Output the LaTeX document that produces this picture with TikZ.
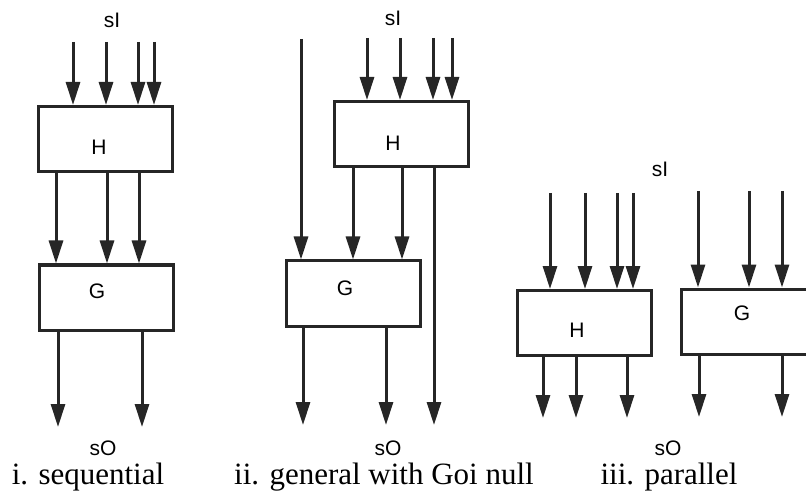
\documentclass[tikz,border=0pt]{standalone}
\usepackage{fontspec}
\setmainfont{Liberation Serif}
\newfontfamily\helv{Liberation Sans}
\usetikzlibrary{arrows.meta}
\colorlet{ink}{black!85}

\begin{document}
\begin{tikzpicture}[x=1pt,y=-1pt,
  blk/.style={draw=ink,line width=3pt,minimum width=134pt,minimum height=65pt,inner sep=0pt},
  sig/.style={draw=ink,line width=3pt,-{Triangle[length=23pt,width=14pt]}},
  lbl/.style={font=\helv\fontsize{21}{24}\selectfont,inner sep=0pt,
    text height=15pt,text depth=0pt},
  captxt/.style={font=\fontsize{31}{36}\selectfont,inner sep=0pt,anchor=base,
    text height=20pt,text depth=7pt}]
  \useasboundingbox (0,0) rectangle (806,497);

  % i. sequential
  \node[blk] (h1) at (105,139) {};
  \node[blk] (g1) at (106,297.5) {};
  \node[lbl] (h1t) at (99,147) {H};
  \node[lbl] (g1t) at (97,291) {G};
  \node[lbl] (si1) at (112,20) {sI};
  \node[lbl] (so1) at (103,448) {sO};
  \node[captxt] (c1) at (88,484) {i. sequential};
  \foreach \x in {73,106,138,154} {
    \coordinate (a1-\x) at (\x,42);
    \draw[sig] (a1-\x) -- (a1-\x |- h1.north);
  }
  \foreach \x in {56,107,139}
    \draw[sig] (h1.south -| \x,0) -- (g1.north -| \x,0);
  \foreach \x in {58,142} {
    \coordinate (z1-\x) at (\x,427);
    \draw[sig] (g1.south -| z1-\x) -- (z1-\x);
  }

  % ii. general, one input passes H by
  \node[blk] (h2) at (401,134) {};
  \node[blk] (g2) at (353.5,293.5) {};
  \node[lbl] (h2t) at (393,143) {H};
  \node[lbl] (g2t) at (345,288) {G};
  \node[lbl] (si2) at (393,18) {sI};
  \node[lbl] (so2) at (388,448) {sO};
  \node[captxt] (c2) at (384,484) {ii. general with Goi null};
  \foreach \x in {367,400,433,452} {
    \coordinate (a2-\x) at (\x,38);
    \draw[sig] (a2-\x) -- (a2-\x |- h2.north);
  }
  \coordinate (a2-by) at (301,39);
  \draw[sig] (a2-by) -- (a2-by |- g2.north);
  \foreach \x in {353,402}
    \draw[sig] (h2.south -| \x,0) -- (g2.north -| \x,0);
  \coordinate (z2-by) at (434,425);
  \draw[sig] (h2.south -| z2-by) -- (z2-by);
  \foreach \x in {303,386} {
    \coordinate (z2-\x) at (\x,425);
    \draw[sig] (g2.south -| z2-\x) -- (z2-\x);
  }

  % iii. parallel
  \node[blk] (h3) at (584.5,323) {};
  \node[blk] (g3) at (748.5,321.5) {};
  \node[lbl] (h3t) at (577,330) {H};
  \node[lbl] (g3t) at (742,313) {G};
  \node[lbl] (si3) at (660,169) {sI};
  \node[lbl] (so3) at (668,448) {sO};
  \node[captxt] (c3) at (669,484) {iii. parallel};
  \foreach \x in {550,585,617,633} {
    \coordinate (a3-\x) at (\x,193);
    \draw[sig] (a3-\x) -- (a3-\x |- h3.north);
  }
  \foreach \x in {698,749,782} {
    \coordinate (b3-\x) at (\x,191);
    \draw[sig] (b3-\x) -- (b3-\x |- g3.north);
  }
  \foreach \x in {543,576,627} {
    \coordinate (z3-\x) at (\x,418);
    \draw[sig] (h3.south -| z3-\x) -- (z3-\x);
  }
  \foreach \x in {699,782} {
    \coordinate (y3-\x) at (\x,417);
    \draw[sig] (g3.south -| y3-\x) -- (y3-\x);
  }

\end{tikzpicture}
\end{document}
